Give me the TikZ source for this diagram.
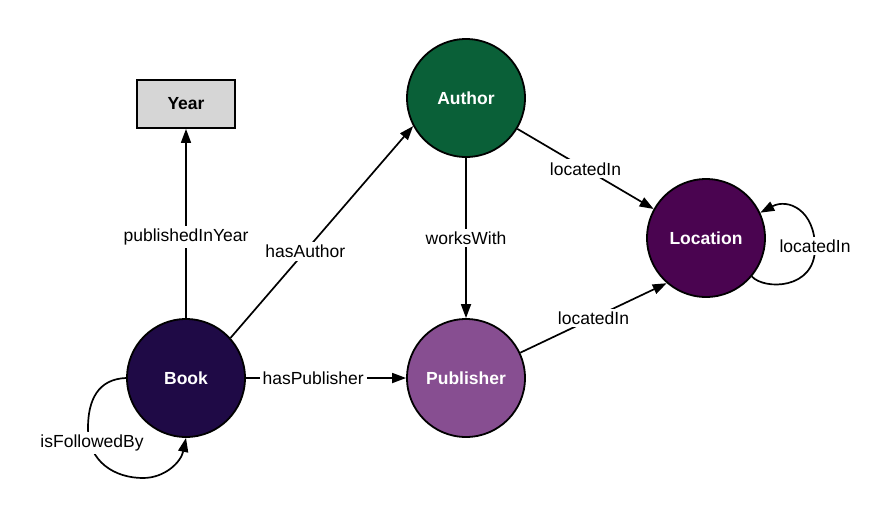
\documentclass[tikz,border=0pt]{standalone}
\usepackage{fontspec}
\setmainfont{Liberation Sans}
\usetikzlibrary{arrows.meta}
\definecolor{cAuthor}{RGB}{10,96,56}
\definecolor{cBook}{RGB}{31,10,70}
\definecolor{cLoc}{RGB}{74,4,80}
\definecolor{cPub}{RGB}{135,78,145}
\definecolor{cYear}{RGB}{214,214,214}
\begin{document}
\begin{tikzpicture}[x=1pt,y=-1pt,
  ent/.style={circle, draw=black, line width=1.8pt, minimum size=118pt, inner sep=0pt, text=white, font=\fontsize{17.5}{20}\selectfont\bfseries},
  lit/.style={rectangle, draw=black, line width=1.8pt, fill=cYear, minimum width=98pt, minimum height=48pt, inner sep=0pt, font=\fontsize{17.5}{20}\selectfont\bfseries},
  edge/.style={line width=1.7pt, -{Triangle[length=14pt,width=10pt]}},
  lbl/.style={fill=white, inner sep=3pt, font=\fontsize{17.5}{20}\selectfont},
]
\useasboundingbox[fill=white] (0,0) rectangle (893,520);

\node[lit] (year) at (186,104) {Year};
\node[ent, fill=cAuthor] (author) at (466,98) {Author};
\node[ent, fill=cLoc] (loc) at (706,238) {Location};
\node[ent, fill=cBook] (book) at (186,378) {Book};
\node[ent, fill=cPub] (pub) at (466,378) {Publisher};

\draw[edge] (book) -- node[lbl,pos=0.43] (l1) {publishedInYear} (year);
\draw[edge] (book.42) -- node[lbl,pos=0.41] (l2) {hasAuthor} (author.208);
\draw[edge] (book) -- node[lbl,pos=0.42] (l3) {hasPublisher} (pub);
\draw[edge] (author) -- node[lbl] (l4) {worksWith} (pub);
\draw[edge] (author.-31) -- node[lbl] (l5) {locatedIn} (loc.151);
\draw[edge] (pub.25) -- node[lbl] (l6) {locatedIn} (loc.229);

\draw[edge] (loc.-40) .. controls (764,290) and (815,290) .. (815,248)
  .. controls (815,210) and (788,198) .. (loc.25);
\node[lbl] (l7) at (815,246) {locatedIn};

\draw[edge] (book.west) .. controls (98,379) and (88,400) .. (88,428)
  .. controls (88,462) and (115,478) .. (143,478)
  .. controls (165,478) and (181,462) .. (book.south);
\node[lbl] (l8) at (92,443) {isFollowedBy};
\end{tikzpicture}
\end{document}
